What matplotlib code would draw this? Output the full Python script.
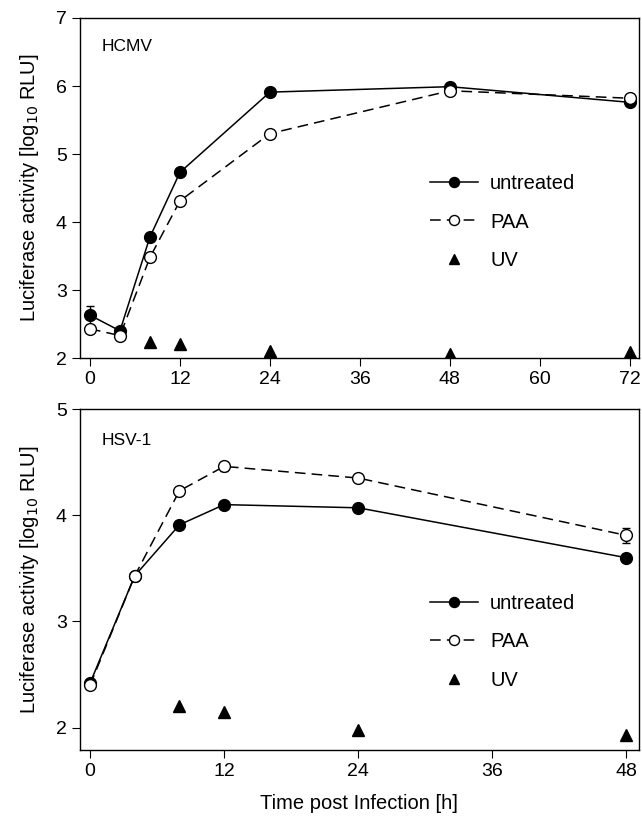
import matplotlib
matplotlib.use("Agg")
import matplotlib.pyplot as plt

plt.rcParams['font.family'] = ['Liberation Sans', 'DejaVu Sans']

# HCMV panel
hcmv_t = [0, 4, 8, 12, 24, 48, 72]
hcmv_untreated = [2.63, 2.40, 3.78, 4.73, 5.91, 5.99, 5.76]
hcmv_untreated_err = [0.14, 0.03, 0.03, 0.03, 0.02, 0.04, 0.04]
hcmv_paa = [2.43, 2.33, 3.48, 4.31, 5.30, 5.93, 5.82]
hcmv_paa_err = [0.05, 0.03, 0.05, 0.05, 0.03, 0.03, 0.05]
hcmv_uv_t = [8, 12, 24, 48, 72]
hcmv_uv = [2.23, 2.20, 2.10, 2.06, 2.09]

# HSV-1 panel
hsv_t = [0, 4, 8, 12, 24, 48]
hsv_untreated = [2.42, 3.43, 3.91, 4.10, 4.07, 3.60]
hsv_untreated_err = [0.03, 0.03, 0.04, 0.02, 0.02, 0.02]
hsv_paa = [2.40, 3.43, 4.23, 4.46, 4.35, 3.81]
hsv_paa_err = [0.03, 0.03, 0.04, 0.04, 0.03, 0.07]
hsv_uv_t = [8, 12, 24, 48]
hsv_uv = [2.20, 2.15, 1.98, 1.93]

labels = ["untreated", "PAA", "UV"]
panel_names = ["HCMV", "HSV-1"]

fig = plt.figure(figsize=(6.42, 8.18), dpi=100)
ax1 = fig.add_axes([0.1246, 0.5623, 0.8704, 0.4157])
ax2 = fig.add_axes([0.1246, 0.0831, 0.8704, 0.4169])

def draw(ax, t, u, ue, p, pe, ut, uv, name, name_y, xlim, ylim, xticks, yticks, leg_y):
    h1 = ax.errorbar(t, u, yerr=ue, color='black', lw=1.1, marker='o', ms=8.5,
                     mfc='black', mec='black', capsize=3, elinewidth=1, zorder=3)
    h2 = ax.errorbar(t, p, yerr=pe, color='black', lw=1.1, ls=(0, (7, 4)), marker='o', ms=8.5,
                     mfc='white', mec='black', mew=1, capsize=3, elinewidth=1, zorder=4)
    h3, = ax.plot(ut, uv, ls='none', marker='^', ms=8.5, color='black', zorder=3)
    ax.set_xlim(*xlim)
    ax.set_ylim(*ylim)
    ax.set_xticks(xticks)
    ax.set_yticks(yticks)
    ax.tick_params(direction='out', labelsize=14, length=6, top=False, right=False)
    ax.set_ylabel("Luciferase activity [log$_{10}$ RLU]", fontsize=14.5, labelpad=11)
    ax.text(0.039, name_y, name, transform=ax.transAxes, fontsize=12.5, va='center')
    for s in ax.spines.values():
        s.set_linewidth(1.0)
    ax.legend([h1[0], h2[0], h3], labels, loc='center left', bbox_to_anchor=(0.626, leg_y),
              frameon=False, fontsize=14.5, handlelength=2.4, handletextpad=0.6,
              labelspacing=0.95, borderpad=0, borderaxespad=0, markerscale=0.85)

draw(ax1, hcmv_t, hcmv_untreated, hcmv_untreated_err, hcmv_paa, hcmv_paa_err,
     hcmv_uv_t, hcmv_uv, panel_names[0], 0.915, (-1.33, 73.2), (2, 7),
     [0, 12, 24, 36, 48, 60, 72], [2, 3, 4, 5, 6, 7], 0.40)
draw(ax2, hsv_t, hsv_untreated, hsv_untreated_err, hsv_paa, hsv_paa_err,
     hsv_uv_t, hsv_uv, panel_names[1], 0.909, (-0.9, 49.1), (1.79, 5),
     [0, 12, 24, 36, 48], [2, 3, 4, 5], 0.317)
ax2.set_xlabel("Time post Infection [h]", fontsize=14.5, labelpad=10)

fig.savefig("out.png", dpi=100)
